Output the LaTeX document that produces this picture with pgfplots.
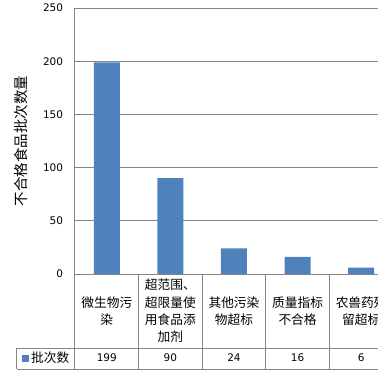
\documentclass[border=0pt]{standalone}
\usepackage{fontspec}
\setmainfont{DejaVu Sans}
\newfontfamily\cjk{Noto Sans CJK SC}
\usepackage{pgfplots}
\usepackage{pgfplotstable}
\pgfplotsset{compat=1.18}
\definecolor{barblue}{HTML}{4F81BD}
\definecolor{gridgray}{HTML}{868686}
\pgfplotstableread{
x y
0 199
1 90
2 24
3 16
4 6
}\data
\begin{document}
\begin{tikzpicture}[x=1bp,y=1bp]
\clip (-75,-102) rectangle (303,274);
\begin{axis}[
  at={(0,0)}, anchor=south west,
  scale only axis, width=318bp, height=266bp,
  xmin=-0.5, xmax=4.5, ymin=0, ymax=250,
  ytick={0,50,...,250},
  xtick={0,1,2,3,4},
  xticklabels={{微生物污\\染},{超范围、\\超限量使\\用食品添\\加剂},{其他污染\\物超标},{质量指标\\不合格},{农兽药残\\留超标}},
  xticklabel style={font=\cjk\fontsize{12.75}{17.5}\selectfont, align=center, anchor=center, yshift=-37bp},
  yticklabel style={font=\fontsize{10.5}{12}\selectfont, xshift=-8.5bp},
  /pgf/number format/assume math mode=true,
  major tick length=0pt,
  ymajorgrids, grid style={gridgray, line width=1bp},
  axis line style={draw=none},
  ylabel={\cjk 不合格食品批次数量},
  ylabel style={font=\fontsize{14.5}{16}\selectfont, at={(axis description cs:-0.170,0.5)}, anchor=center},
  legend style={at={(axis description cs:-0.176,-0.316)}, anchor=west, xshift=3bp, draw=none, fill=none, inner sep=0pt, font=\cjk\fontsize{12.75}{14}\selectfont},
  legend image code/.code={\fill[barblue] (0bp,-3.5bp) rectangle (7bp,3.5bp);},
  clip=false,
]
\addplot[ybar, bar width=26bp, fill=barblue, draw=none] table[x=x,y=y] {\data};
\addlegendentry{批次数}
\addplot[forget plot, draw=none, mark=none, nodes near coords, point meta=explicit,
  every node near coord/.append style={anchor=center, font=\fontsize{10.5}{12}\selectfont, black}]
  table[x=x, y expr=-78.9, meta=y] {\data};
\end{axis}
\begin{scope}[gridgray, line width=1bp]
\draw (0,266) -- (0,-95);
\draw (0,0) -- (318,0);
\draw (-58,-74) -- (318,-74);
\draw (-58,-95) -- (318,-95);
\draw (-58,-74) -- (-58,-95);
\foreach \k in {1,...,5} { \draw (63.6*\k,0) -- (63.6*\k,-95); }
\end{scope}
\end{tikzpicture}
\end{document}
